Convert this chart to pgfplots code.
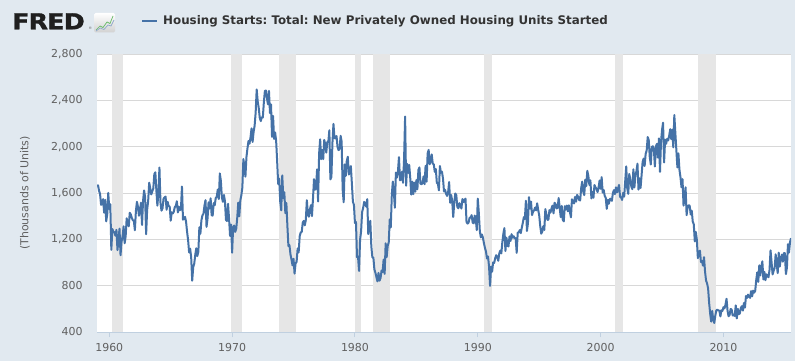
\documentclass[border=0pt]{standalone}
\usepackage{pgfplots}
\pgfplotsset{compat=1.18}
\usepackage{pgfplotstable}
\usepackage{fontspec}
\setmainfont{DejaVu Sans}
\newfontfamily\logofont{DejaVu Sans}[BoldFeatures={FakeBold=1.3}, LetterSpace=-3]
\definecolor{bg}{HTML}{E1E9F0}
\definecolor{fredblue}{HTML}{4572A7}
\definecolor{recess}{HTML}{E6E6E6}
\definecolor{gridc}{HTML}{D8D8D8}
\definecolor{labc}{HTML}{606060}
\definecolor{titc}{HTML}{333333}
\definecolor{axisc}{HTML}{C0D0E0}

% monthly housing starts, Jan 1959 - Jul 2015 (thousands, SAAR)
\pgfplotstableread[row sep=\\]{
v\\
1657\\1667\\1620\\1590\\1498\\1503\\1547\\1430\\1540\\1355\\1416\\1601\\
1460\\1503\\1109\\1289\\1266\\1260\\1231\\1282\\1107\\1199\\1292\\1063\\
1183\\1226\\1312\\1166\\1228\\1382\\1335\\1312\\1429\\1415\\1385\\1365\\
1361\\1278\\1443\\1524\\1483\\1404\\1450\\1517\\1324\\1533\\1622\\1564\\
1244\\1456\\1534\\1689\\1641\\1588\\1614\\1639\\1763\\1779\\1622\\1491\\
1603\\1820\\1517\\1448\\1467\\1550\\1562\\1569\\1455\\1524\\1486\\1484\\
1361\\1433\\1423\\1438\\1478\\1488\\1529\\1432\\1482\\1452\\1460\\1656\\
1370\\1378\\1394\\1352\\1265\\1194\\1086\\1119\\1046\\843\\961\\990\\
1067\\1123\\1056\\1091\\1304\\1248\\1364\\1407\\1421\\1491\\1538\\1308\\
1380\\1520\\1466\\1554\\1408\\1405\\1512\\1495\\1556\\1569\\1630\\1548\\
1769\\1705\\1561\\1524\\1583\\1528\\1368\\1358\\1507\\1381\\1229\\1327\\
1085\\1305\\1319\\1264\\1290\\1385\\1517\\1399\\1534\\1580\\1647\\1893\\
1828\\1741\\1910\\1986\\2049\\2026\\2083\\2158\\2041\\2128\\2182\\2295\\
2494\\2390\\2334\\2249\\2221\\2254\\2252\\2382\\2481\\2485\\2421\\2366\\
2481\\2289\\2365\\2084\\2266\\2067\\2123\\2051\\1874\\1677\\1724\\1526\\
1451\\1752\\1555\\1607\\1426\\1513\\1316\\1142\\1150\\1070\\1026\\975\\
1032\\904\\993\\1005\\1121\\1087\\1226\\1260\\1264\\1344\\1360\\1321\\
1367\\1538\\1421\\1395\\1459\\1495\\1401\\1550\\1720\\1629\\1641\\1804\\
1527\\1943\\2063\\1892\\1971\\1893\\2058\\2020\\1949\\2042\\2042\\2142\\
1718\\1738\\2032\\2197\\2075\\2070\\2092\\1996\\1970\\1981\\2094\\2044\\
1630\\1520\\1847\\1748\\1876\\1913\\1760\\1778\\1832\\1681\\1524\\1498\\
1341\\1350\\1047\\1051\\927\\1196\\1269\\1436\\1471\\1523\\1510\\1482\\
1547\\1246\\1306\\1360\\1140\\1045\\1041\\940\\911\\873\\837\\910\\
843\\866\\931\\917\\1025\\902\\1166\\1046\\1144\\1173\\1372\\1303\\
1586\\1699\\1606\\1472\\1776\\1733\\1785\\1910\\1710\\1715\\1785\\1688\\
1897\\2260\\1663\\1851\\1774\\1843\\1732\\1586\\1698\\1590\\1689\\1612\\
1711\\1632\\1800\\1821\\1680\\1676\\1684\\1743\\1676\\1834\\1698\\1942\\
1972\\1848\\1876\\1933\\1854\\1847\\1782\\1807\\1687\\1681\\1623\\1833\\
1774\\1784\\1726\\1614\\1628\\1594\\1575\\1605\\1695\\1515\\1583\\1532\\
1393\\1511\\1596\\1582\\1480\\1468\\1512\\1491\\1466\\1548\\1521\\1540\\
1551\\1349\\1336\\1345\\1386\\1388\\1409\\1344\\1338\\1405\\1377\\1280\\
1551\\1430\\1270\\1217\\1242\\1215\\1167\\1126\\1095\\1034\\1052\\965\\
798\\965\\921\\1001\\996\\1036\\1063\\1049\\1015\\1079\\1103\\1079\\
1176\\1250\\1297\\1099\\1214\\1145\\1139\\1226\\1186\\1244\\1214\\1227\\
1210\\1210\\1083\\1258\\1260\\1280\\1254\\1300\\1343\\1392\\1376\\1533\\
1272\\1337\\1564\\1465\\1526\\1409\\1439\\1450\\1474\\1450\\1511\\1455\\
1407\\1316\\1249\\1267\\1314\\1281\\1461\\1416\\1369\\1369\\1452\\1431\\
1467\\1491\\1424\\1516\\1504\\1467\\1472\\1557\\1475\\1392\\1489\\1370\\
1355\\1486\\1457\\1492\\1442\\1494\\1437\\1390\\1546\\1520\\1510\\1566\\
1525\\1584\\1567\\1540\\1536\\1641\\1698\\1614\\1582\\1715\\1660\\1792\\
1748\\1670\\1710\\1553\\1611\\1559\\1669\\1648\\1635\\1608\\1648\\1708\\
1636\\1737\\1604\\1626\\1575\\1559\\1463\\1541\\1507\\1549\\1551\\1532\\
1600\\1625\\1590\\1649\\1605\\1636\\1670\\1567\\1562\\1540\\1602\\1568\\
1698\\1829\\1642\\1592\\1764\\1717\\1655\\1633\\1804\\1648\\1753\\1788\\
1853\\1629\\1726\\1643\\1751\\1867\\1897\\1833\\1939\\1967\\2083\\2057\\
1911\\1846\\1998\\2003\\1981\\1828\\2002\\2024\\1905\\2072\\1782\\2042\\
2144\\2207\\1864\\2061\\2025\\2068\\2054\\2095\\2151\\2065\\2147\\1994\\
2273\\2119\\1969\\1821\\1942\\1802\\1737\\1650\\1720\\1491\\1570\\1649\\
1409\\1480\\1495\\1490\\1415\\1448\\1354\\1330\\1183\\1264\\1197\\1037\\
1084\\1103\\1005\\1013\\973\\1046\\923\\844\\820\\777\\652\\560\\
490\\582\\505\\478\\540\\585\\594\\586\\585\\534\\588\\581\\
614\\604\\636\\687\\583\\536\\546\\599\\594\\543\\545\\539\\
630\\517\\600\\554\\561\\608\\623\\585\\650\\610\\711\\694\\
723\\704\\695\\753\\708\\757\\740\\754\\847\\915\\833\\976\\
888\\962\\1010\\854\\919\\847\\898\\883\\873\\936\\1105\\1003\\
897\\928\\953\\1071\\985\\909\\1085\\965\\1031\\1068\\1007\\1081\\
1081\\900\\954\\1158\\1085\\1174\\1210\\
}\houst

% NBER recessions (start, end) as decimal years
\pgfplotstableread{
s e
1960.25 1961.08
1969.92 1970.83
1973.83 1975.17
1980.00 1980.50
1981.50 1982.83
1990.50 1991.17
2001.17 2001.83
2007.92 2009.42
}\recessions

\begin{document}
\frenchspacing
\begin{tikzpicture}[x=1bp,y=1bp]
\fill[bg] (0,0) rectangle (795,361);
% FRED logo
\node[anchor=base west, inner sep=0, text=black!88] at (12,331.7)
  {\scalebox{1.15}[1]{\logofont\fontsize{22}{22}\selectfont\bfseries FRED}};
\node[anchor=base west, inner sep=0, text=black!60] at (88.5,331.5) {\fontsize{3.5}{4}\selectfont\textregistered};
\shade[top color=white, bottom color=black!18, rounded corners=1.5bp] (94,328.5) rectangle (115,348);
\draw[green!55!black!60, line width=0.7bp] (96,331) -- (100,335) -- (103,333.5) -- (107,339) -- (110,337.5) -- (113,345);
\draw[fredblue!60, line width=0.7bp] (96,330) -- (100,333) -- (104,331.5) -- (108,336) -- (111,335) -- (114,341);
% title with legend line
\draw[fredblue, line width=2bp] (142,340) -- (157,340);
\node[anchor=west, inner sep=0, text=titc] at (163,340)
  {\fontsize{11.9}{13}\selectfont\bfseries Housing Starts: Total: New Privately Owned Housing Units Started};
\begin{axis}[
  at={(97bp,29bp)}, anchor=south west, scale only axis,
  width=694bp, height=278bp,
  xmin=1959, xmax=2015.5, ymin=400, ymax=2800,
  xtick={1960,1970,...,2010}, ytick={400,800,...,2800},
  axis background/.style={fill=white},
  axis x line*=bottom, axis y line*=left,
  x axis line style={draw=axisc, line width=1bp},
  y axis line style={draw=none},
  tick align=outside, major tick length=5bp,
  xtick style={draw=axisc, line width=1bp},
  ytick style={draw=none},
  ymajorgrids, grid style={draw=gridc, line width=0.8bp},
  tick label style={font=\fontsize{11}{13}\selectfont, text=labc},
  /pgf/number format/assume math mode=true,
  yticklabel style={/pgf/number format/1000 sep={,}, xshift=-6bp},
  xticklabel style={/pgf/number format/1000 sep={}, yshift=-3bp},
  ylabel={(Thousands of Units)},
  ylabel style={at={(axis description cs:-0.1037,0.5)}, anchor=center,
    font=\fontsize{11}{13}\selectfont, text=labc},
]
\pgfplotsinvokeforeach{0,...,7}{
  \pgfplotstablegetelem{#1}{s}\of\recessions \let\rs\pgfplotsretval
  \pgfplotstablegetelem{#1}{e}\of\recessions \let\re\pgfplotsretval
  \edef\tmp{\noexpand\addplot[fill=recess, draw=none, forget plot]
    coordinates {(\rs,400) (\rs,2800) (\re,2800) (\re,400)} -- cycle;}
  \tmp
}
\addplot[fredblue, line width=2bp, line join=round] table[x expr={1959+\coordindex/12}, y index=0] {\houst};
\end{axis}
\end{tikzpicture}
\end{document}
